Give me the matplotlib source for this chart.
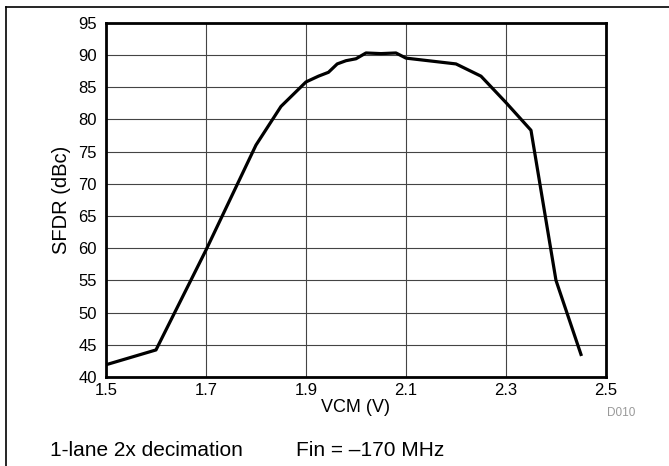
import matplotlib.pyplot as plt
from matplotlib.lines import Line2D

plt.rcParams['font.family'] = ['Liberation Sans', 'DejaVu Sans']

# SFDR vs VCM
vcm = [1.5, 1.6, 1.7, 1.8, 1.85, 1.9, 1.925, 1.945, 1.9625, 1.98, 2.0,
       2.02, 2.05, 2.08, 2.1, 2.2, 2.25, 2.3, 2.35, 2.4, 2.45]
sfdr = [41.9, 44.2, 59.7, 76.0, 82.0, 85.8, 86.7, 87.3, 88.6, 89.1, 89.4,
        90.3, 90.2, 90.3, 89.5, 88.6, 86.7, 82.6, 78.3, 55.0, 43.5]

xticks = [1.5, 1.7, 1.9, 2.1, 2.3, 2.5]
yticks = list(range(40, 96, 5))

fig = plt.figure(figsize=(6.69, 4.66), dpi=100)
ax = fig.add_axes([0.1584, 0.191, 0.7474, 0.7603])

ax.plot(vcm, sfdr, color='black', lw=2.3, solid_joinstyle='round')
ax.set_xlim(1.5, 2.5)
ax.set_ylim(40, 95)
ax.set_xticks(xticks)
ax.set_yticks(yticks)
ax.set_xticklabels([str(v) for v in xticks])
ax.grid(True, color='#444444', lw=0.8)
ax.tick_params(length=0, labelsize=12)
ax.tick_params(axis='y', pad=6.5)
ax.tick_params(axis='x', pad=4)
for s in ax.spines.values():
    s.set_linewidth(2)

ax.set_xlabel('VCM (V)', fontsize=13, labelpad=1)
ax.set_ylabel('SFDR (dBc)', fontsize=14.5, labelpad=5)

fig.text(0.907, 0.113, 'D010', fontsize=8.5, color='#999999', ha='left', va='center')
fig.text(0.075, 0.034, '1-lane 2x decimation', fontsize=15, ha='left', va='center')
fig.text(0.443, 0.034, 'Fin = \u2013170 MHz', fontsize=15, ha='left', va='center')

# outer frame lines
fig.add_artist(Line2D([0.009, 1.0], [1 - 7 / 466, 1 - 7 / 466], color='black', lw=1.2,
                      transform=fig.transFigure))
fig.add_artist(Line2D([0.009, 0.009], [0.0, 1 - 7 / 466], color='black', lw=1.2,
                      transform=fig.transFigure))

fig.savefig('out.png', dpi=100)
